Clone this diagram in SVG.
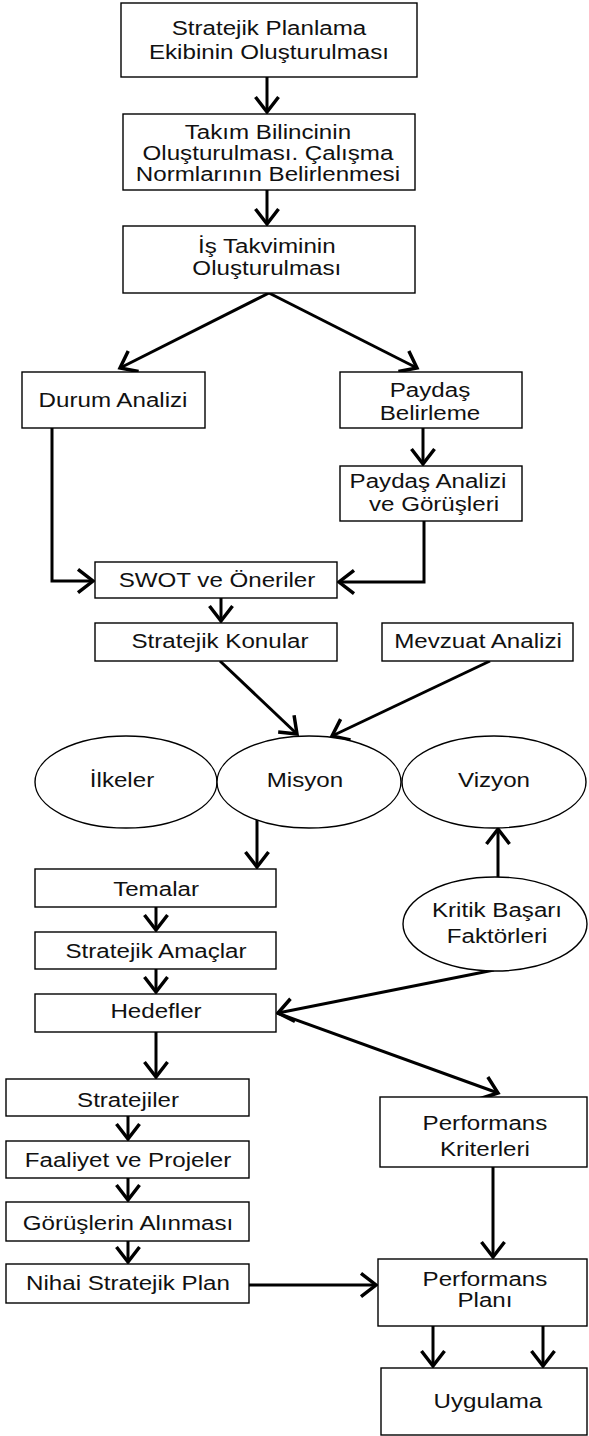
<svg xmlns="http://www.w3.org/2000/svg" width="589" height="1436" viewBox="0 0 589 1436">
<defs>
<marker id="ah" markerUnits="userSpaceOnUse" markerWidth="30" markerHeight="30" refX="0" refY="0" viewBox="-16 -13 18 26" orient="auto" overflow="visible">
<path d="M-13,-10 L0,0 L-13,10" fill="none" stroke="#000" stroke-width="3" stroke-linejoin="miter"/>
</marker>
<style>
.b{fill:#fff;stroke:#000;stroke-width:1.4}
.c{fill:none;stroke:#000;stroke-width:3;marker-end:url(#ah)}
text{font-family:"Liberation Sans",Arial,sans-serif;font-size:21px;fill:#111;text-anchor:middle}
</style>
</defs>
<rect width="589" height="1436" fill="#fff"/>
<g id="connectors">
<path class="c" d="M267,77 L267,112"/>
<path class="c" d="M267,190 L267,224"/>
<path class="c" d="M269,293 L120,368"/>
<path class="c" d="M269,293 L417,368"/>
<path class="c" d="M423,428 L423,464"/>
<path class="c" d="M52,428 L52,581 L93,581"/>
<path class="c" d="M424,521 L424,582 L339,582"/>
<path class="c" d="M221,598 L221,621"/>
<path class="c" d="M220,661 L297,734"/>
<path class="c" d="M490,661 L332,736"/>
<path class="c" d="M257,820 L257,867"/>
<path class="c" d="M498,877 L498,829"/>
<path class="c" d="M156,907 L156,930"/>
<path class="c" d="M156,969 L156,992"/>
<path class="c" d="M494,970 L278,1013"/>
<path class="c" d="M277,1013 L498,1093"/>
<path class="c" d="M156,1032 L156,1077"/>
<path class="c" d="M128,1116 L128,1139"/>
<path class="c" d="M128,1178 L128,1200"/>
<path class="c" d="M128,1241 L128,1262"/>
<path class="c" d="M249,1285 L376,1285"/>
<path class="c" d="M493,1167 L493,1257"/>
<path class="c" d="M433,1326 L433,1366"/>
<path class="c" d="M543,1326 L543,1366"/>
</g>
<g id="n1"><rect class="b" x="121" y="3" width="296" height="74"/></g>
<g id="n2"><rect class="b" x="123" y="114" width="292" height="76"/></g>
<g id="n3"><rect class="b" x="123" y="226" width="292" height="67"/></g>
<g id="n4"><rect class="b" x="22" y="372" width="183" height="56"/></g>
<g id="n5"><rect class="b" x="340" y="372" width="182" height="56"/></g>
<g id="n6"><rect class="b" x="340" y="466" width="182" height="55"/></g>
<g id="n7"><rect class="b" x="95" y="562" width="242" height="36"/></g>
<g id="n8"><rect class="b" x="95" y="623" width="242" height="38"/></g>
<g id="n9"><rect class="b" x="382" y="623" width="191" height="38"/></g>
<g id="n10"><ellipse class="b" cx="126" cy="782" rx="91" ry="46"/></g>
<g id="n11"><ellipse class="b" cx="309" cy="782" rx="92" ry="46"/></g>
<g id="n12"><ellipse class="b" cx="494" cy="782" rx="92" ry="46"/></g>
<g id="n13"><rect class="b" x="35" y="869" width="241" height="38"/></g>
<g id="n14"><rect class="b" x="35" y="932" width="241" height="37"/></g>
<g id="n15"><rect class="b" x="35" y="994" width="241" height="38"/></g>
<g id="n16"><ellipse class="b" cx="495" cy="924" rx="92" ry="47"/></g>
<g id="n17"><rect class="b" x="6" y="1079" width="243" height="37"/></g>
<g id="n18"><rect class="b" x="6" y="1141" width="243" height="37"/></g>
<g id="n19"><rect class="b" x="6" y="1202" width="243" height="39"/></g>
<g id="n20"><rect class="b" x="6" y="1264" width="243" height="39"/></g>
<g id="n21"><rect class="b" x="380" y="1097" width="207" height="70"/></g>
<g id="n22"><rect class="b" x="378" y="1259" width="209" height="67"/></g>
<g id="n23"><rect class="b" x="381" y="1368" width="206" height="67"/></g>
<g id="labels" transform="scale(1.15,1)">
<text x="233.9" y="35">Stratejik Planlama</text>
<text x="233.9" y="59">Ekibinin Oluşturulması</text>
<text x="233" y="139">Takım Bilincinin</text>
<text x="233" y="160">Oluşturulması. Çalışma</text>
<text x="233" y="181">Normlarının Belirlenmesi</text>
<text x="232" y="253">İş Takviminin</text>
<text x="232" y="275">Oluşturulması</text>
<text x="98.3" y="407">Durum Analizi</text>
<text x="373.9" y="397">Paydaş</text>
<text x="373.9" y="420">Belirleme</text>
<text x="372.2" y="488">Paydaş Analizi</text>
<text x="377.4" y="511">ve Görüşleri</text>
<text x="188.7" y="587">SWOT ve Öneriler</text>
<text x="191.3" y="648">Stratejik Konular</text>
<text x="415.7" y="648">Mevzuat Analizi</text>
<text x="106.1" y="787">İlkeler</text>
<text x="265.2" y="787">Misyon</text>
<text x="429.6" y="787">Vizyon</text>
<text x="135.7" y="896">Temalar</text>
<text x="135.7" y="958">Stratejik Amaçlar</text>
<text x="135.7" y="1018">Hedefler</text>
<text x="432.2" y="917">Kritik Başarı</text>
<text x="432.2" y="943">Faktörleri</text>
<text x="111.3" y="1107">Stratejiler</text>
<text x="111.3" y="1167">Faaliyet ve Projeler</text>
<text x="111.3" y="1230">Görüşlerin Alınması</text>
<text x="111.3" y="1290">Nihai Stratejik Plan</text>
<text x="421.7" y="1130">Performans</text>
<text x="421.7" y="1156">Kriterleri</text>
<text x="421.7" y="1286">Performans</text>
<text x="421.7" y="1307">Planı</text>
<text x="424.3" y="1408">Uygulama</text>
</g>
</svg>
